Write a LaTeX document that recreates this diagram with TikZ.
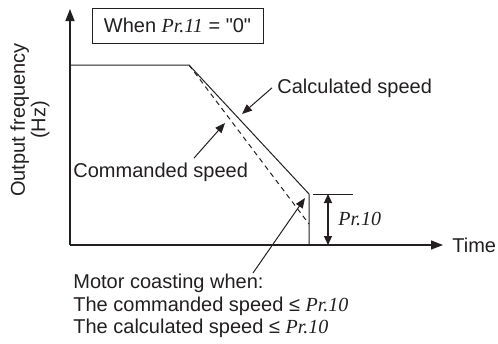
\documentclass[tikz,border=0pt]{standalone}
\usepackage{fontspec}
\setmainfont{Liberation Sans}
\newfontfamily\plainsans{Liberation Sans}
\newfontfamily\prfont{Liberation Serif}
\usetikzlibrary{arrows.meta,calc}
\definecolor{Ink}{HTML}{231F20}
\newcommand{\pr}[1]{{\prfont\itshape Pr.#1}}
\tikzset{
 every node/.style={font=\fontsize{10}{11.25}\selectfont,text=Ink,inner sep=0pt},
 axis/.style={-{Triangle[length=6pt,width=4.5pt]},line width=.75pt,draw=Ink},
 curve/.style={line width=.5pt,draw=Ink},
 cmdcurve/.style={curve,dash pattern=on 2.5pt off 2pt},
 pointer/.style={-{Triangle[length=5pt,width=4pt]},line width=.5pt,draw=Ink},
 gap/.style={{Triangle[length=4.5pt,width=4pt]}-{Triangle[length=4.5pt,width=4pt]},line width=.6pt,draw=Ink},
}

\begin{document}
\begin{tikzpicture}[x=.5pt,y=-.5pt]
 \useasboundingbox (0,0) rectangle (498,343);
 % axes
 \coordinate (O) at (70,245);
 \coordinate (ytop) at (70,9);
 \coordinate (xend) at (443,245);
 \draw[axis] (O) -- (ytop);
 \draw[axis] (O) -- (xend);
 \node[anchor=west] (time) at (452,245) {Time};
 \node[rotate=90,align=center,font=\fontsize{10}{9}\selectfont] (ylab) at (30,120) {Output frequency\\(Hz)};
 \node[draw=Ink,line width=.5pt,minimum width=85.5pt,minimum height=17.5pt] (cond) at (177.5,25.5) {When \pr{11} {\plainsans= "0"}};
 % speed curves
 \coordinate (run) at (70,65);
 \coordinate (dec) at (189,65);
 \coordinate (calcEnd) at (309,194);
 \coordinate (stop) at (309,245);
 \coordinate (cmdEnd) at (309,224);
 \draw[curve] (run) -- (dec) -- (calcEnd) -- (stop);
 \draw[cmdcurve] (dec) -- (cmdEnd);
 % Pr.10 level
 \coordinate (lvlA) at (313,194);
 \coordinate (lvlB) at (353,194);
 \draw[curve] (lvlA) -- (lvlB);
 \coordinate (gapTop) at (328,194);
 \coordinate (gapBot) at (328,245);
 \draw[gap] (gapTop) -- (gapBot);
 \node[anchor=base west] (lvl) at (338,225) {\pr{10}};
 % labels
 \node[anchor=base west] (calc) at (277,93) {Calculated speed};
 \coordinate (calcHit) at (242,114);
 \draw[pointer] ([xshift=-2.5pt]calc.west) -- (calcHit);
 \node[anchor=base west] (cmd) at (73,177) {Commanded speed};
 \coordinate (cmdHit) at (225,123);
 \draw[pointer] ($(cmd.north west)!.69!(cmd.north east)+(0,-4)$) -- (cmdHit);
 \node[anchor=north west,align=left] (coast) at (73,274) {Motor coasting when:\\The commanded speed ≤ \pr{10}\\The calculated speed ≤ \pr{10}};
 \coordinate (coastFrom) at (253,273);
 \coordinate (coastHit) at (305,198);
 \draw[pointer] (coastFrom) -- (coastHit);
\end{tikzpicture}
\end{document}
